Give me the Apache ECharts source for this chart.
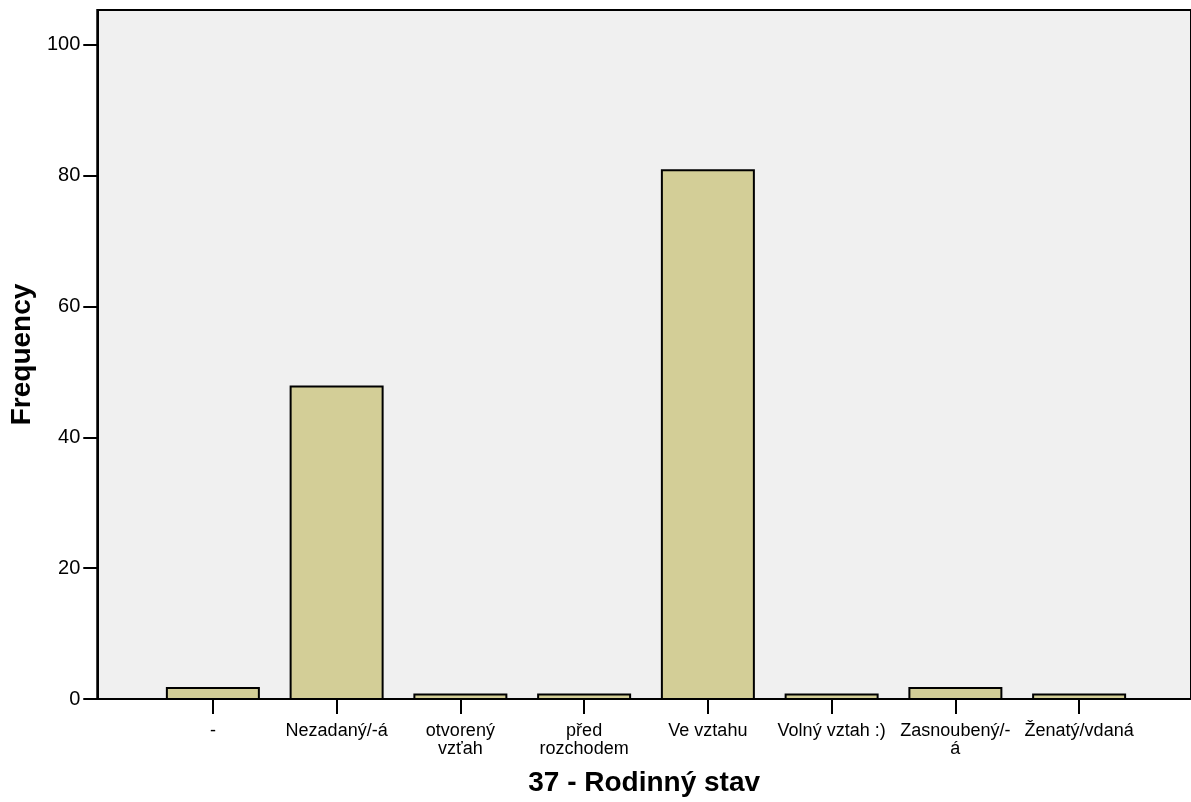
<!DOCTYPE html>
<html>
<head>
<meta charset="utf-8">
<script src="https://cdn.jsdelivr.net/npm/echarts@6/dist/echarts.min.js"></script>
<style>
  html, body { margin: 0; padding: 0; background: #fff; }
  #chart { width: 1191px; height: 802px; }
</style>
</head>
<body>
<div id="chart"></div>
<script>
// categories and counts
const categories = ['-', 'Nezadaný/-á', 'otvorený\nvzťah', 'před\nrozchodem', 'Ve vztahu', 'Volný vztah :)', 'Zasnoubený/-\ná', 'Ženatý/vdaná']
const counts = [2, 48, 1, 1, 81, 1, 2, 1]
const yTicks = [0, 20, 40, 60, 80, 100]

const font = '"Liberation Sans", Arial, sans-serif'
const yMax = 105.3

const chart = echarts.init(document.getElementById('chart'), null, { renderer: 'canvas' })

const option = {
  backgroundColor: '#fff',
  animation: false,
  grid: [
    // frame / background grid
    {
      left: 96, right: 0, top: 10, bottom: 102,
      show: true, backgroundColor: '#f0f0f0', borderColor: '#000', borderWidth: 2,
      containLabel: false
    },
    // grid holding the bars, inset so the category centres land where they do
    { left: 151, right: 50, top: 10, bottom: 102, containLabel: false }
  ],
  xAxis: [
    {
      gridIndex: 0, type: 'value', min: 0, max: 1,
      axisLine: { show: true, lineStyle: { color: '#000', width: 2 } },
      axisTick: { show: false }, axisLabel: { show: false }, splitLine: { show: false },
      name: '37 - Rodinný stav', nameLocation: 'middle', nameGap: 70,
      nameTextStyle: { fontFamily: font, fontSize: 28, fontWeight: 'bold', color: '#000' }
    },
    {
      gridIndex: 1, type: 'category', data: categories,
      axisLine: { show: false },
      axisTick: { show: true, alignWithLabel: true, length: 14, lineStyle: { color: '#000', width: 2 } },
      axisLabel: { interval: 0, margin: 22, fontFamily: font, fontSize: 18, lineHeight: 18, color: '#000' }
    }
  ],
  yAxis: [
    {
      gridIndex: 0, type: 'value', min: 0, max: yMax,
      axisLine: { show: true, lineStyle: { color: '#000', width: 2 } },
      axisTick: { show: true, length: 14, customValues: yTicks, lineStyle: { color: '#000', width: 2 } },
      axisLabel: {
        margin: 17, fontFamily: font, fontSize: 20, color: '#000',
        customValues: yTicks
      },
      splitLine: { show: false },
      name: 'Frequency', nameLocation: 'middle', nameGap: 48,
      nameTextStyle: { fontFamily: font, fontSize: 28, fontWeight: 'bold', color: '#000' }
    },
    {
      gridIndex: 1, type: 'value', min: 0, max: yMax, show: false
    }
  ],
  series: [
    {
      type: 'bar',
      xAxisIndex: 1, yAxisIndex: 1,
      data: counts,
      barWidth: 94,
      itemStyle: { color: '#d3ce97', borderColor: '#000', borderWidth: 2 }
    }
  ]
}

chart.setOption(option)
</script>
</body>
</html>
